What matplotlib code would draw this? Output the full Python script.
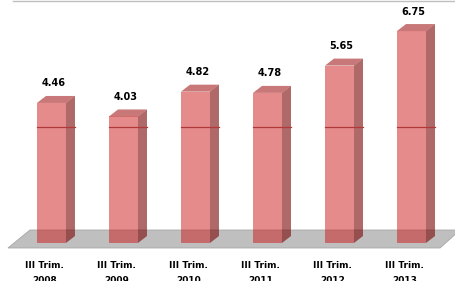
import matplotlib
matplotlib.use("Agg")
import matplotlib.pyplot as plt
from matplotlib.patches import Polygon
from matplotlib.lines import Line2D

categories = ["III Trim.\n2008", "III Trim.\n2009", "III Trim.\n2010",
              "III Trim.\n2011", "III Trim.\n2012", "III Trim.\n2013"]
values = [4.46, 4.03, 4.82, 4.78, 5.65, 6.75]
value_labels = ["4.46", "4.03", "4.82", "4.78", "5.65", "6.75"]
grid_level = 3.69

fig = plt.figure(figsize=(4.56, 2.81), dpi=100)
ax = fig.add_axes([0, 0, 1, 1])
ax.set_xlim(-0.715, 5.618)
ax.set_ylim(-1.21, 7.739)
ax.axis("off")

hw = 0.2014   # half width of front face
dx = 0.125    # depth offset x
dy = 0.223    # depth offset y

# floor
floor = Polygon([(-0.604, -0.159), (-0.299, 0.414), (5.674, 0.414), (5.396, -0.159)],
                closed=True, facecolor="#BFBFBF", edgecolor="#A6A6A6", lw=0.6, zorder=1)
ax.add_patch(floor)

front_c = (205/255, 25/255, 25/255, 0.5)
side_c = (122/255, 5/255, 5/255, 0.6)
top_c = (155/255, 10/255, 10/255, 0.55)
line_c = "#B03A3A"

for i, v in enumerate(values):
    xl, xr = i - hw, i + hw
    front = Polygon([(xl, 0), (xl, v), (xr, v), (xr, 0)], closed=True,
                    facecolor=front_c, edgecolor="none", zorder=2)
    side = Polygon([(xr, 0), (xr, v), (xr + dx, v + dy), (xr + dx, dy)], closed=True,
                   facecolor=side_c, edgecolor="none", zorder=2)
    top = Polygon([(xl, v), (xr, v), (xr + dx, v + dy), (xl + dx, v + dy)], closed=True,
                  facecolor=top_c, edgecolor="none", zorder=2)
    for p in (front, side, top):
        ax.add_patch(p)
    ax.plot([xl, xr + dx], [grid_level, grid_level], color=line_c, lw=0.9, zorder=3)
    ax.text(i + 0.03, v + 0.62, value_labels[i], ha="center", va="center",
            fontsize=7, fontweight="bold", family="DejaVu Sans", color="black", zorder=4)
    ax.text(i - 0.1, -0.57, categories[i], ha="center", va="top",
            fontsize=6.5, fontweight="bold", family="DejaVu Sans", color="black",
            linespacing=1.9, zorder=4)

fig.add_artist(Line2D([13/456, 1], [1 - 0.8/281, 1 - 0.8/281], color="#BFBFBF", lw=1.0))

fig.savefig("out.png", dpi=100)
